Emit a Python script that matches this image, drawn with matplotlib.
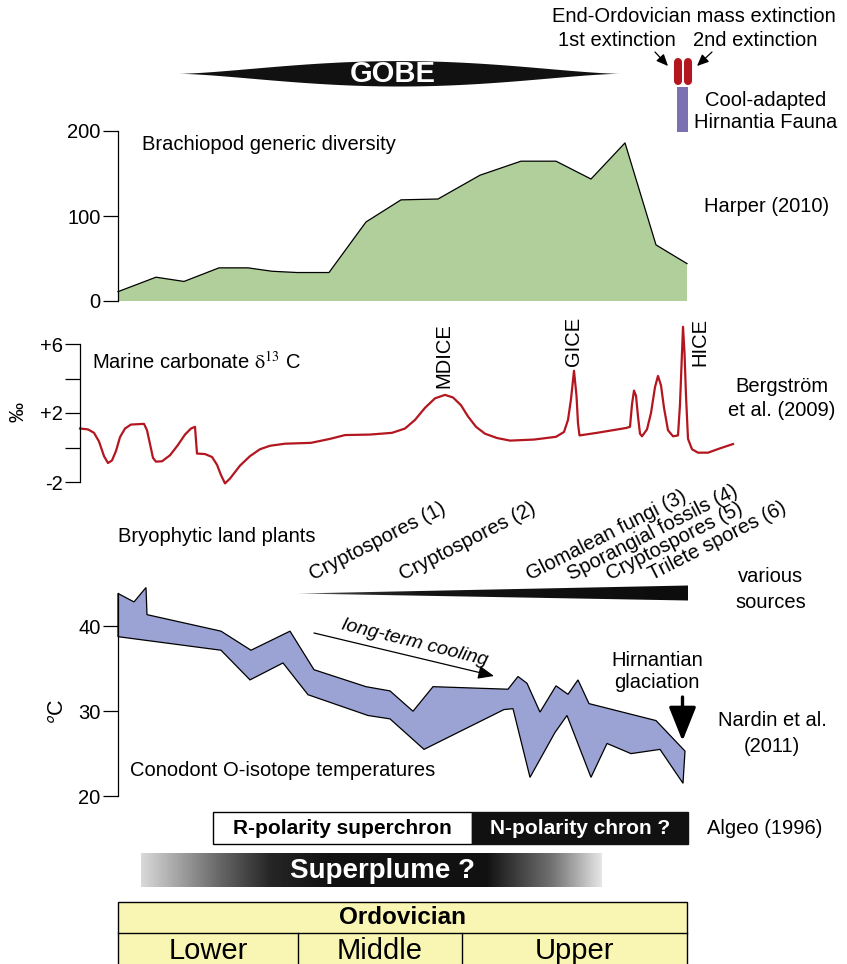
import numpy as np
import matplotlib
matplotlib.use('Agg')
import matplotlib.pyplot as plt
from matplotlib.patches import Rectangle, Polygon

plt.rcParams['font.family'] = ['Liberation Sans', 'DejaVu Sans']
plt.rcParams['mathtext.fontset'] = 'stix'

W, H = 847, 964   # canvas size in px; x values below are positions on the shared time line
FS = 14.5

# Brachiopod generic diversity (Harper 2010)
brach_x = [118, 156, 184, 219, 248, 272, 297, 329, 366, 401, 438, 480, 521, 556, 591, 625, 656, 687]
brach_n = [11, 28, 23, 39, 39, 35, 33.5, 33.5, 93, 119, 120, 148, 164.5, 164.5, 143.5, 186, 66, 44]
brach_ticks = [0, 100, 200]

# Marine carbonate d13C (Bergstrom et al. 2009)
d13c_x = [80, 88, 94, 99, 104, 108, 112, 116, 120, 125,
          131, 144, 147, 150, 153, 156, 162, 170, 178, 185,
          191, 195, 197, 205, 212, 217, 221, 225, 230, 240,
          250, 260, 270, 285, 311, 330, 345, 370, 392, 405,
          415, 425, 435, 445, 453, 461, 468, 476, 485, 497,
          510, 534, 556, 564, 568, 571, 574, 576.5, 578, 579.5,
          597, 626, 630, 632, 634, 636, 638, 640, 642, 647,
          651, 655, 658, 661, 664, 668, 673, 678, 680, 682,
          683, 684.5, 686, 688, 692, 698, 708, 720, 733]
d13c_v = [1.1, 1.05, 0.85, 0.35, -0.5, -0.9, -0.75, -0.2, 0.6, 1.1,
          1.33, 1.37, 1.0, 0.2, -0.6, -0.82, -0.8, -0.45, 0.15, 0.75,
          1.1, 1.2, -0.35, -0.38, -0.55, -1.0, -1.6, -2.08, -1.8, -1.05,
          -0.5, -0.1, 0.1, 0.22, 0.27, 0.5, 0.72, 0.75, 0.85, 1.1,
          1.6, 2.3, 2.85, 3.05, 2.9, 2.45, 1.8, 1.2, 0.8, 0.55,
          0.4, 0.46, 0.62, 0.9, 1.6, 2.8, 4.45, 3.0, 1.4, 0.7,
          0.85, 1.13, 1.2, 2.5, 3.3, 3.0, 1.8, 0.8, 0.65, 1.05,
          2.0, 3.5, 4.15, 3.6, 2.3, 1.0, 0.65, 0.7, 2.5, 5.5,
          7.0, 5.5, 3.0, 0.5, -0.1, -0.3, -0.3, -0.05, 0.2]
d13c_ticks = [-2, 0, 2, 4, 6]
d13c_labels = ['-2', '', '+2', '', '+6']
events = ['MDICE', 'GICE', 'HICE']
event_x = [444, 574, 700]

# Conodont O-isotope temperatures (Nardin et al. 2011), upper and lower envelope
temp_top_x = [118, 134, 146, 147, 221, 251, 290, 314, 366, 390, 413, 433,
              508, 518, 527, 540, 556, 568, 578, 589, 656, 685]
temp_top_v = [43.9, 42.9, 44.6, 41.4, 39.45, 37.2, 39.45, 34.9, 32.9, 32.4, 30.0, 32.9,
              32.6, 34.1, 33.3, 29.9, 33.0, 32.0, 33.7, 30.9, 28.9, 25.3]
temp_bot_x = [118, 221, 250, 283, 308, 368, 390, 424, 504, 513, 530, 555,
              567, 591, 607, 631, 660, 683]
temp_bot_v = [38.8, 37.2, 33.7, 35.7, 31.95, 29.5, 29.1, 25.5, 30.2, 30.3, 22.2, 27.5,
              29.5, 22.2, 26.2, 25.0, 25.5, 21.5]
temp_ticks = [20, 30, 40]

# early land plant records
plant_labels = ['Cryptospores (1)', 'Cryptospores (2)', 'Glomalean fungi (3)',
                'Sporangial fossils (4)', 'Cryptospores (5)', 'Trilete spores (6)']
plant_x = [313, 403, 530, 571, 610, 652]

stages = ['Lower', 'Middle', 'Upper']
stage_edges = [118, 298, 462, 687]


def data_axes(fig, y_top, y_bot, v_top, v_bot, spine_x):
    ax = fig.add_axes([0, 1 - y_bot / H, 1, (y_bot - y_top) / H])
    ax.set_xlim(0, W)
    ax.set_ylim(v_bot, v_top)
    ax.patch.set_visible(False)
    for s in ('top', 'right', 'bottom'):
        ax.spines[s].set_visible(False)
    ax.spines['left'].set_position(('data', spine_x))
    ax.spines['left'].set_linewidth(0.9)
    ax.set_xticks([])
    ax.tick_params(axis='y', length=10.5, width=0.9, pad=2, labelsize=FS)
    return ax


fig = plt.figure(figsize=(W / 100, H / 100), dpi=100)

# brachiopods
ax1 = data_axes(fig, 131, 301, 200, 0, 118)
ax1.fill_between(brach_x, 0, brach_n, facecolor='#b0cf9b', edgecolor='none')
ax1.plot(brach_x, brach_n, color='black', lw=0.9)
ax1.spines['left'].set_bounds(0, 200)
ax1.set_yticks(brach_ticks)

# carbon isotopes
ax2 = data_axes(fig, 344, 482, 6, -2, 80)
ax2.plot(d13c_x, d13c_v, color='#b3161f', lw=1.6, clip_on=False, solid_joinstyle='round')
ax2.spines['left'].set_bounds(-2, 6)
ax2.set_yticks(d13c_ticks)
ax2.set_yticklabels(d13c_labels)

# temperatures
ax3 = data_axes(fig, 626.5, 796, 40, 20, 118)
env = list(zip(temp_top_x, temp_top_v)) + list(zip(temp_bot_x, temp_bot_v))[::-1]
ax3.add_patch(Polygon(env, closed=True, facecolor='#9ba2d4', edgecolor='black',
                      lw=0.9, clip_on=False))
ax3.spines['left'].set_bounds(20, max(temp_top_v[0], 40))
ax3.set_yticks(temp_ticks)

# overlay in pixel coordinates for labels and schematic bars
ov = fig.add_axes([0, 0, 1, 1])
ov.set_xlim(0, W)
ov.set_ylim(H, 0)
ov.axis('off')

# GOBE spindle
u = np.linspace(-1, 1, 400)
half = 12.7 * (1 - u ** 2) ** 1.6
ov.fill_between(399 + 221 * u, 73.3 - half, 73.3 + half, color='#111111', lw=0)
ov.text(393, 74, 'GOBE', color='white', fontsize=21, fontweight='bold',
        ha='center', va='center')

# end-Ordovician extinction pulses and Hirnantia fauna
for xe in (677.5, 688.3):
    ov.plot([xe, xe], [61.5, 81], color='#b3161f', lw=5.8, solid_capstyle='round')
ov.add_patch(Rectangle((677.3, 87), 11, 45, facecolor='#7a70b2', edgecolor='none'))
ov.text(694, 17, 'End-Ordovician mass extinction', fontsize=FS, ha='center', va='center')
ov.text(617, 41, '1st extinction', fontsize=FS, ha='center', va='center')
ov.text(755, 41, '2nd extinction', fontsize=FS, ha='center', va='center')
arrow_kw = dict(arrowstyle='-|>,head_length=0.5,head_width=0.22', color='black', lw=0.9,
                mutation_scale=14, shrinkA=0, shrinkB=0)
ov.annotate('', xy=(668, 66), xytext=(655, 52), arrowprops=arrow_kw)
ov.annotate('', xy=(697, 66), xytext=(712, 52), arrowprops=arrow_kw)
ov.text(766, 100, 'Cool-adapted', fontsize=FS, ha='center', va='center')
ov.text(766, 123, 'Hirnantia Fauna', fontsize=FS, ha='center', va='center')

# panel labels
ov.text(142, 144, 'Brachiopod generic diversity', fontsize=FS, va='center')
ov.text(704, 207, 'Harper (2010)', fontsize=FS, va='center')
ov.text(92, 362, r'Marine carbonate $\mathrm{δ}^{\mathrm{13}}$ C', fontsize=FS, va='center')
ov.text(18, 412, '‰', fontsize=FS, rotation=90, ha='center', va='center')
for name, xe, yb in zip(events, event_x, [388, 366, 366]):
    ov.text(xe, yb, name, fontsize=FS, rotation=90, ha='center', va='bottom')
ov.text(782, 386, 'Bergström', fontsize=FS, ha='center', va='center')
ov.text(782, 410, 'et al. (2009)', fontsize=FS, ha='center', va='center')

ov.text(118, 537, 'Bryophytic land plants', fontsize=FS, va='center')
for lab, xp in zip(plant_labels, plant_x):
    ov.text(xp, 580, lab, fontsize=FS, rotation=27, rotation_mode='anchor',
            ha='left', va='baseline')
wedge = Polygon([(298, 593.5), (688, 585.5), (688, 600.5)], closed=True,
                facecolor='none', edgecolor='none')
ov.add_patch(wedge)
gx = np.linspace(298, 688, 300)
gw = np.interp(gx, [298, 340, 420, 688], [0.5, 0.22, 0.08, 0.05])
im = ov.imshow(gw[None, :], extent=[298, 688, 601, 585], cmap='gray', vmin=0, vmax=1,
               aspect='auto', interpolation='bilinear')
im.set_clip_path(wedge)
ov.text(771, 577, 'various', fontsize=FS, ha='center', va='center')
ov.text(771, 603, 'sources', fontsize=FS, ha='center', va='center')

ov.text(58, 711, r'$^{\mathsf{o}}$C', fontsize=FS + 1, rotation=90, ha='center', va='center')
ov.annotate('', xy=(494, 676), xytext=(314, 633),
            arrowprops=dict(arrowstyle='-|>,head_length=0.6,head_width=0.25', color='black',
                            lw=0.9, mutation_scale=16, shrinkA=0, shrinkB=0))
ov.text(415, 643, 'long-term cooling', fontsize=FS - 0.5, style='italic', rotation=-14,
        rotation_mode='anchor', ha='center', va='center')
ov.text(657, 660, 'Hirnantian', fontsize=FS, ha='center', va='center')
ov.text(657, 683, 'glaciation', fontsize=FS, ha='center', va='center')
ov.annotate('', xy=(682.5, 741), xytext=(682.5, 697),
            arrowprops=dict(arrowstyle='-|>,head_length=1.05,head_width=0.42', color='black',
                            lw=2.4, mutation_scale=20, shrinkA=0, shrinkB=0))
ov.text(772, 720, 'Nardin et al.', fontsize=FS, ha='center', va='center')
ov.text(772, 746, '(2011)', fontsize=FS, ha='center', va='center')
ov.text(130, 771, 'Conodont O-isotope temperatures', fontsize=FS, va='center')

# magnetic polarity
ov.add_patch(Rectangle((213, 812), 259, 32, facecolor='white', edgecolor='black', lw=1))
ov.add_patch(Rectangle((472, 812), 216, 32, facecolor='#111111', edgecolor='#111111', lw=1))
ov.text(342, 829, 'R-polarity superchron', fontsize=15, fontweight='bold',
        ha='center', va='center')
ov.text(580, 829, 'N-polarity chron ?', fontsize=15, fontweight='bold', color='white',
        ha='center', va='center')
ov.text(707, 829, 'Algeo (1996)', fontsize=FS, va='center')

# superplume
sx = np.linspace(141, 602, 400)
sg = np.interp(sx, [141, 220, 270, 330, 487, 553, 602], [0.85, 0.4, 0.15, 0.07, 0.07, 0.45, 0.9])
ov.imshow(sg[None, :], extent=[141, 602, 887, 853], cmap='gray', vmin=0, vmax=1,
          aspect='auto', interpolation='bilinear')
ov.text(383, 871, 'Superplume ?', fontsize=20, fontweight='bold', color='white',
        ha='center', va='center')

# Ordovician time scale
ov.add_patch(Rectangle((118, 902), 569, 80, facecolor='#f9f6b4', edgecolor='black', lw=1))
ov.plot([118, 687], [933, 933], color='black', lw=1)
for xe in stage_edges[1:-1]:
    ov.plot([xe, xe], [933, 980], color='black', lw=1)
ov.text(403, 918, 'Ordovician', fontsize=17.5, fontweight='bold', ha='center', va='center')
for name, a, b in zip(stages, stage_edges[:-1], stage_edges[1:]):
    ov.text((a + b) / 2, 951, name, fontsize=21, ha='center', va='center')

ov.set_xlim(0, W)
ov.set_ylim(H, 0)

fig.savefig('out.png', dpi=100)
